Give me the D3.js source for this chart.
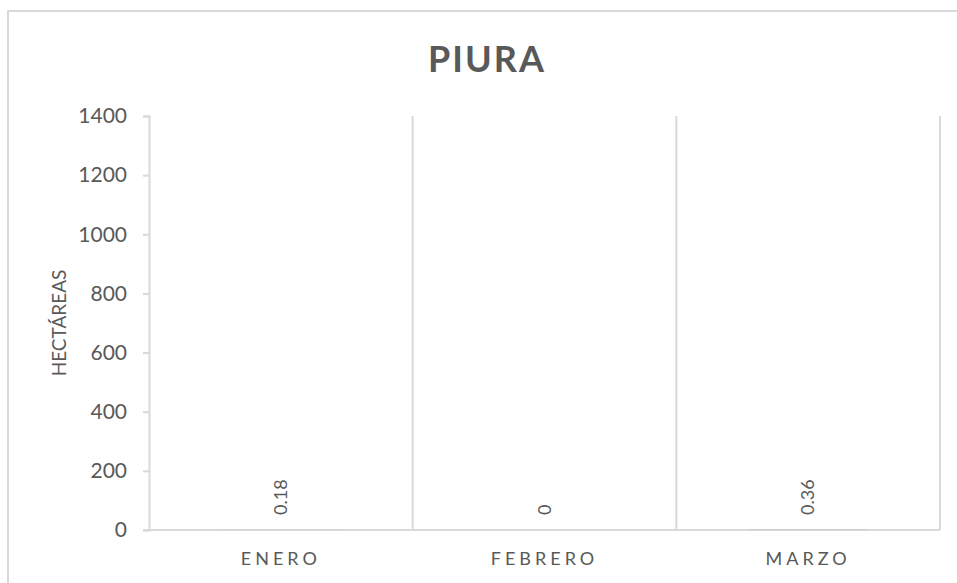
<!DOCTYPE html>
<html>
<head>
<meta charset="utf-8">
<script src="https://cdn.jsdelivr.net/npm/d3@7"></script>
<style>
  body { margin: 0; background: #fff; }
  text { font-family: Lato, "Open Sans", sans-serif; fill: #595959; }
</style>
</head>
<body>
<div id="chart"></div>
<script>
// --data--
const months = ["ENERO", "FEBRERO", "MARZO"];
const hectareas = [0.18, 0, 0.36];
const yTicks = [0, 200, 400, 600, 800, 1000, 1200, 1400];
const chartTitle = "PIURA";
const yLabel = "HECTÁREAS";

// --graph--
const W = 957, H = 583;
const margin = {top: 116, right: 17, bottom: 53, left: 149};
const gridColor = "#d9d9d9";

var svg = d3.select("#chart")
  .append("svg")
  .attr("width", W)
  .attr("height", H);

// chart frame
svg.append("path")
  .attr("d", `M8,${H + 2} L8,11 L${W + 2},11`)
  .attr("fill", "none")
  .attr("stroke", gridColor)
  .attr("stroke-width", 2);

var x = d3.scaleBand()
  .domain(months)
  .range([margin.left, W - margin.right]);

var y = d3.scaleLinear()
  .domain([0, 1400])
  .range([H - margin.bottom, margin.top]);

// title
svg.append("text")
  .attr("x", 487)
  .attr("y", 72)
  .attr("text-anchor", "middle")
  .style("font-size", "36px")
  .style("font-weight", 700)
  .style("letter-spacing", "2px")
  .text(chartTitle);

// vertical gridlines between categories
svg.append("g")
  .selectAll("line")
  .data(months)
  .join("line")
  .attr("x1", d => x(d) + x.bandwidth())
  .attr("x2", d => x(d) + x.bandwidth())
  .attr("y1", y(1400))
  .attr("y2", y(0))
  .attr("stroke", gridColor)
  .attr("stroke-width", 2);

// y axis
var yAxis = svg.append("g")
  .attr("transform", `translate(${margin.left},0)`)
  .call(d3.axisLeft(y).tickValues(yTicks).tickFormat(d3.format("d")).tickSize(6).tickPadding(16));
yAxis.select(".domain").attr("stroke", gridColor).attr("stroke-width", 2);
yAxis.selectAll(".tick line").attr("stroke", gridColor).attr("stroke-width", 2);
yAxis.selectAll(".tick text")
  .attr("fill", "#595959")
  .style("font-size", "21px")
  .style("font-family", "Lato, sans-serif");

// x axis
var xAxis = svg.append("g")
  .attr("transform", `translate(0,${y(0)})`)
  .call(d3.axisBottom(x).tickSize(0).tickPadding(22));
xAxis.select(".domain")
  .attr("d", `M${margin.left - 6},0H${W - margin.right}`)
  .attr("stroke", gridColor)
  .attr("stroke-width", 2);
xAxis.selectAll(".tick text")
  .attr("fill", "#595959")
  .attr("dy", "0.71em")
  .style("font-size", "18px")
  .style("font-family", "Lato, sans-serif")
  .style("letter-spacing", "4px");

// bars (tiny on this scale)
var barW = x.bandwidth() * 0.45;
svg.append("g")
  .selectAll("rect")
  .data(hectareas)
  .join("rect")
  .attr("x", (d, i) => x(months[i]) + (x.bandwidth() - barW) / 2)
  .attr("width", barW)
  .attr("y", d => y(d))
  .attr("height", d => y(0) - y(d))
  .attr("fill", "#4472c4");

// data labels, rotated
svg.append("g")
  .selectAll("text")
  .data(hectareas)
  .join("text")
  .attr("transform", (d, i) => `translate(${x(months[i]) + x.bandwidth() / 2 + 6},${y(d) - 15}) rotate(-90)`)
  .attr("text-anchor", "start")
  .style("font-size", "18px")
  .text(d => d);

// y axis title
svg.append("text")
  .attr("transform", `translate(66,${y(700)}) rotate(-90)`)
  .attr("text-anchor", "middle")
  .style("font-size", "19px")
  .text(yLabel);
</script>
</body>
</html>
